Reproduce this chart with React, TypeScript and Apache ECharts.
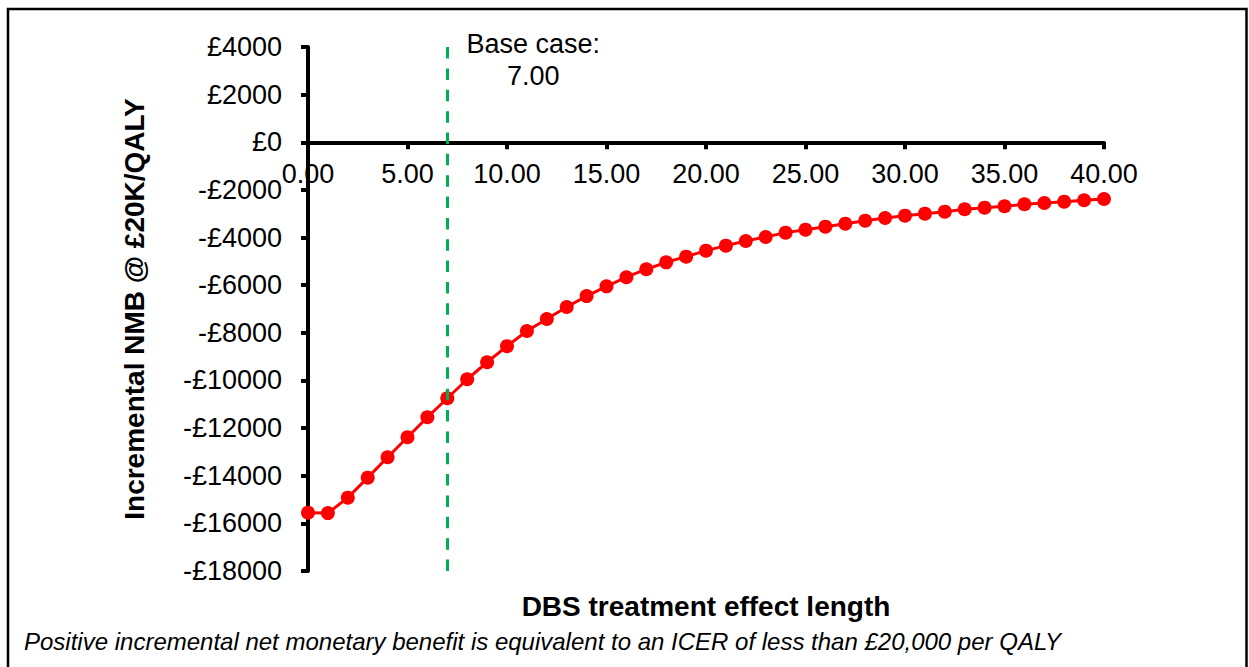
import React, { useEffect, useRef } from "react";
import * as echarts from "echarts";

const effectYears = [
  0, 1, 2, 3, 4, 5, 6, 7, 8, 9, 10, 11, 12, 13, 14, 15, 16, 17, 18, 19, 20,
  21, 22, 23, 24, 25, 26, 27, 28, 29, 30, 31, 32, 33, 34, 35, 36, 37, 38, 39, 40,
];
const nmbValues = [
  -15550, -15570, -14920, -14080, -13225, -12385, -11545, -10747, -9950, -9236,
  -8560, -7922, -7420, -6918, -6457, -6050, -5665, -5330, -5040, -4803, -4550,
  -4340, -4144, -3976, -3794, -3669, -3543, -3417, -3291, -3178, -3081, -2997,
  -2913, -2813, -2746, -2687, -2603, -2548, -2494, -2435, -2380,
];
const baseCase = 7;
const baseLineRange = [-18000, 4000];
const yTitle = "Incremental NMB @ £20K/QALY";
const xTitle = "DBS treatment effect length";
const footnote =
  "Positive incremental net monetary benefit is equivalent to an ICER of less than £20,000 per QALY";

const FONT = "'Liberation Sans', Arial, sans-serif";

export default function App() {
  const ref = useRef<HTMLDivElement>(null);
  useEffect(() => {
    if (!ref.current) return;
    const chart = echarts.init(ref.current, null, { renderer: "svg" });
    chart.setOption({
      animation: false,
      textStyle: { fontFamily: FONT },
      grid: { left: 308, right: 145, top: 47, bottom: 96 },
      xAxis: {
        type: "value",
        min: 0,
        max: 40,
        interval: 5,
        position: "bottom",
        offset: 0,
        axisLine: { onZero: false, lineStyle: { color: "#000", width: 4 } },
        axisTick: { show: true, length: 7, lineStyle: { color: "#000", width: 4 } },
        axisLabel: {
          color: "#000",
          fontSize: 27,
          fontFamily: FONT,
          margin: 18,
          formatter: (v: number) => v.toFixed(2),
        },
        splitLine: { show: false },
      },
      yAxis: {
        type: "value",
        min: -18000,
        max: 4000,
        interval: 2000,
        name: yTitle,
        nameLocation: "middle",
        nameGap: 160,
        nameTextStyle: { color: "#000", fontSize: 28, fontWeight: "bold", fontFamily: FONT },
        axisLine: { show: true, onZero: false, lineStyle: { color: "#000", width: 4 } },
        axisTick: { show: true, length: 7, lineStyle: { color: "#000", width: 4 } },
        axisLabel: {
          color: "#000",
          fontSize: 27,
          fontFamily: FONT,
          margin: 26,
          formatter: (v: number) => (v < 0 ? "-£" + Math.abs(v) : "£" + v),
        },
        splitLine: { show: false },
      },
      series: [
        {
          type: "line",
          data: effectYears.map((x, i) => [x, nmbValues[i]]),
          symbol: "circle",
          symbolSize: 14,
          lineStyle: { color: "#FF0000", width: 3 },
          itemStyle: { color: "#FF0000" },
          markLine: {
            silent: true,
            symbol: "none",
            label: { show: false },
            lineStyle: { color: "#00B050", width: 3, type: [11.5, 9.85] },
            data: [
              [
                { coord: [baseCase, baseLineRange[0]] },
                { coord: [baseCase, baseLineRange[1]] },
              ],
            ],
          },
        },
      ],
    });
    const px = chart.convertToPixel({ xAxisIndex: 0 }, baseCase) as number;
    const py = chart.convertToPixel({ yAxisIndex: 0 }, 4000) as number;
    const zeroY = chart.convertToPixel({ yAxisIndex: 0 }, 0) as number;
    const bottomY = chart.convertToPixel({ yAxisIndex: 0 }, -18000) as number;
    chart.setOption({
      xAxis: { offset: -(bottomY - zeroY) },
      graphic: [
        {
          type: "rect",
          shape: { x: 8, y: 9, width: 1238.5, height: 700 },
          style: { fill: "none", stroke: "#000", lineWidth: 2.5 },
          silent: true,
        },
        {
          type: "text",
          x: px + 86,
          y: py - 19,
          style: {
            text: "Base case:\n7.00",
            font: `27px ${FONT}`,
            fill: "#000",
            align: "center",
            verticalAlign: "top",
            lineHeight: 32,
          },
        },
        {
          type: "text",
          x: 706,
          y: 606,
          style: {
            text: xTitle,
            font: `bold 28px ${FONT}`,
            fill: "#000",
            align: "center",
            verticalAlign: "middle",
          },
        },
        {
          type: "text",
          x: 24,
          y: 641,
          style: {
            text: footnote,
            font: `italic 24px ${FONT}`,
            fill: "#000",
            align: "left",
            verticalAlign: "middle",
          },
        },
      ],
    });
    return () => chart.dispose();
  }, []);
  return (
    <div
      ref={ref}
      style={{ position: "fixed", left: 0, top: 0, width: 1249, height: 667, background: "#fff" }}
    />
  );
}
